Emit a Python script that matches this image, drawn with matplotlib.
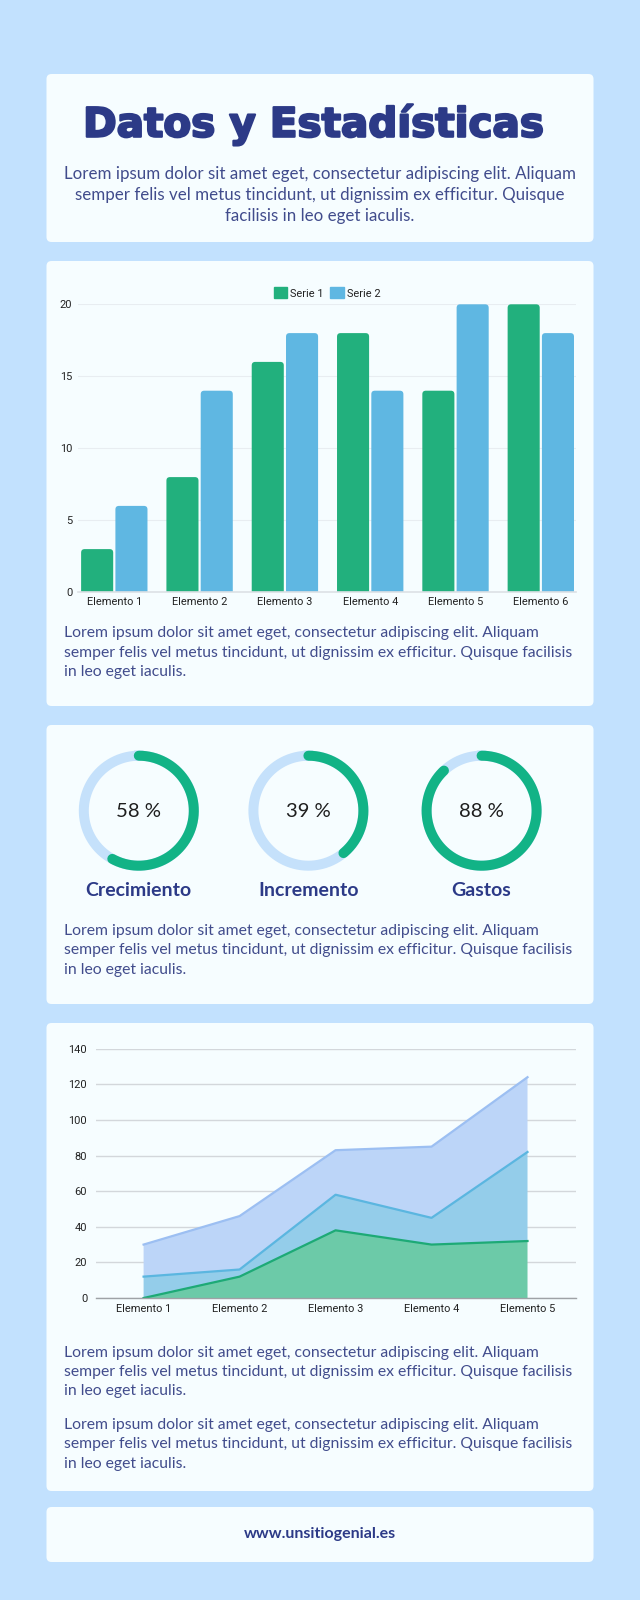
import matplotlib
matplotlib.use('Agg')
import matplotlib.pyplot as plt
import matplotlib.patheffects as pe
import numpy as np
from matplotlib.patches import FancyBboxPatch, Patch

# ---------------- data ----------------
bar_categories = ['Elemento 1', 'Elemento 2', 'Elemento 3', 'Elemento 4', 'Elemento 5', 'Elemento 6']
serie1 = [3, 8, 16, 18, 14, 20]
serie2 = [6, 14, 18, 14, 20, 18]
bar_yticks = [0, 5, 10, 15, 20]
legend_labels = ['Serie 1', 'Serie 2']

donut_values = [58, 39, 88]
donut_labels = ['Crecimiento', 'Incremento', 'Gastos']

area_categories = ['Elemento 1', 'Elemento 2', 'Elemento 3', 'Elemento 4', 'Elemento 5']
area_s1 = [0, 12, 38, 30, 32]
area_s2 = [12, 4, 20, 15, 50]
area_s3 = [18, 30, 25, 40, 42]
area_yticks = [0, 20, 40, 60, 80, 100, 120, 140]

title = 'Datos y Estadísticas'
intro_lines = ['Lorem ipsum dolor sit amet eget, consectetur adipiscing elit. Aliquam',
               'semper felis vel metus tincidunt, ut dignissim ex efficitur. Quisque',
               'facilisis in leo eget iaculis.']
para_lines = ['Lorem ipsum dolor sit amet eget, consectetur adipiscing elit. Aliquam',
              'semper felis vel metus tincidunt, ut dignissim ex efficitur. Quisque facilisis',
              'in leo eget iaculis.']
footer = 'www.unsitiogenial.es'

# ---------------- style ----------------
BG = '#C2E1FE'
PANEL = '#F6FDFF'
NAVY = '#2C3A87'
TXT = '#414C8C'
GREEN = '#22B07D'
BLUE = '#5FB7E2'
DGREEN = '#12B386'
TRACK = '#C5E1FB'
TICK = '#222222'
PFONT = ['Lato', 'DejaVu Sans']
AFONT = ['Roboto', 'DejaVu Sans']

W, H = 640, 1600
fig = plt.figure(figsize=(6.4, 16), dpi=100)
fig.patch.set_facecolor(BG)
renderer = fig.canvas.get_renderer()

bg = fig.add_axes([0, 0, 1, 1])
bg.set_xlim(0, W)
bg.set_ylim(H, 0)
bg.axis('off')
bg.set_zorder(0)


def rect(x0, y0, x1, y1):
    return [x0 / W, 1 - y1 / H, (x1 - x0) / W, (y1 - y0) / H]


def fit(t, target):
    w = t.get_window_extent(renderer).width
    t.set_fontsize(t.get_fontsize() * target / w)
    return t.get_fontsize()


PX0, PX1 = 46.5, 593.5
panels = [(74, 242), (261, 706), (725, 1004), (1023, 1491), (1507, 1562)]
for y0, y1 in panels:
    bg.add_patch(FancyBboxPatch((PX0, y0), PX1 - PX0, y1 - y0,
                                boxstyle='round,pad=0,rounding_size=5',
                                fc=PANEL, ec='none'))

# Title
t = bg.text(313.4, 136.7, title, ha='center', va='baseline', color=NAVY,
            fontsize=30, fontweight='bold', family=['DejaVu Sans'])
fit(t, 460)
t.set_path_effects([pe.withStroke(linewidth=1.6, foreground=NAVY)])

# Intro paragraph
t0 = bg.text(320, 174, intro_lines[0], ha='center', va='center', color=TXT,
             fontsize=10, family=PFONT)
fs_intro = fit(t0, 510)
for y, line in zip([195, 215.5], intro_lines[1:]):
    bg.text(320, y, line, ha='center', va='center', color=TXT,
            fontsize=fs_intro, family=PFONT)

# Panel paragraphs
tmp = bg.text(0, -100, para_lines[1], fontsize=10, family=PFONT)
fs_para = fit(tmp, 508)
tmp.remove()


def paragraph(y_first):
    for i, line in enumerate(para_lines):
        bg.text(64, y_first + 19.3 * i, line, ha='left', va='center',
                color=TXT, fontsize=fs_para, family=PFONT)


paragraph(633.3)
paragraph(931)
paragraph(1352.7)
paragraph(1425)

# ---------------- bar chart ----------------
ax = fig.add_axes(rect(78, 304.3, 575.7, 592.3))
ax.set_facecolor('none')
x = np.arange(len(bar_categories))
bw = 0.376
bars1 = ax.bar(x - 0.201, serie1, bw, color=GREEN)
bars2 = ax.bar(x + 0.201, serie2, bw, color=BLUE)
rx, ry = 3.5 / 85.3, 3.5 / 14.4
for bars, col in [(bars1, GREEN), (bars2, BLUE)]:
    for p in bars:
        p.set_visible(False)
        bx, by, bwid, bh = p.get_x(), p.get_y(), p.get_width(), p.get_height()
        ax.add_patch(FancyBboxPatch((bx, by - ry), bwid, bh + ry,
                                    boxstyle=f'round,pad=0,rounding_size={rx}',
                                    mutation_aspect=ry / rx, fc=col, ec='none', zorder=2))
ax.set_xlim(-0.4255, 5.409)
ax.set_ylim(0, 20)
ax.set_yticks(bar_yticks)
ax.set_xticks(x)
ax.set_xticklabels(bar_categories)
ax.grid(axis='y', color='#E8EDF1', lw=0.8)
ax.set_axisbelow(True)
for s in ['left', 'right', 'top']:
    ax.spines[s].set_visible(False)
ax.spines['bottom'].set_color('#DCE1E5')
ax.spines['bottom'].set_linewidth(1.2)
ax.spines['bottom'].set_zorder(3)
ax.tick_params(length=0, colors=TICK)
ax.tick_params(axis='y', pad=4.2)
ax.tick_params(axis='x', pad=3.5)
for lab in ax.get_xticklabels() + ax.get_yticklabels():
    lab.set_family(AFONT)
    lab.set_fontsize(7.9)
ax.legend(handles=[Patch(color=GREEN, label=legend_labels[0]),
                   Patch(color=BLUE, label=legend_labels[1])],
          loc='center', bbox_to_anchor=(327.2 / W, 1 - 293 / H),
          bbox_transform=fig.transFigure, ncol=2, frameon=False,
          prop={'family': AFONT, 'size': 7.9}, handlelength=1.2,
          handleheight=1.15, handletextpad=0.33, columnspacing=0.6,
          borderpad=0, borderaxespad=0, labelcolor=TICK)

# ---------------- donuts ----------------
donut_cx = [138.8, 308.4, 481.6]
cy = 810.7
tl = bg.text(0, -100, donut_labels[0], fontsize=12, family=PFONT, fontweight='bold')
fs_lab = fit(tl, 105.4)
tl.remove()
tp0 = bg.text(0, -100, f'{donut_values[0]} %', fontsize=14, family=PFONT)
fs_pct = fit(tp0, 45.3)
tp0.remove()
for cx, val, lab in zip(donut_cx, donut_values, donut_labels):
    axp = fig.add_axes(rect(cx - 66, cy - 66, cx + 66, cy + 66), projection='polar')
    axp.set_theta_zero_location('N')
    axp.set_theta_direction(-1)
    axp.set_ylim(0, 66)
    axp.axis('off')
    full = np.linspace(0, 2 * np.pi, 400)
    axp.plot(full, np.full_like(full, 55), color=TRACK, lw=7.2)
    th = np.linspace(0, 2 * np.pi * val / 100, 300)
    axp.plot(th, np.full_like(th, 55), color=DGREEN, lw=7.2, solid_capstyle='round')
    bg.text(cx, cy + 1, f'{val} %', ha='center', va='center', color='#1E1E1E',
            fontsize=fs_pct, family=PFONT)
    bg.text(cx, 890.7, lab, ha='center', va='center', color=NAVY,
            fontsize=fs_lab, family=PFONT, fontweight='bold')

# ---------------- area chart ----------------
ax2 = fig.add_axes(rect(95.6, 1048.7, 575.5, 1298))
ax2.set_facecolor('none')
xa = np.arange(len(area_categories))
ax2.stackplot(xa, area_s1, area_s2, area_s3,
              colors=['#6CCAA8', '#94CDEA', '#BCD5F8'], zorder=2)
c1 = np.array(area_s1)
c2 = c1 + np.array(area_s2)
c3 = c2 + np.array(area_s3)
ax2.plot(xa, c3, color='#9CBFF2', lw=1.6, zorder=3)
ax2.plot(xa, c2, color='#5BB6E0', lw=1.6, zorder=3)
ax2.plot(xa, c1, color='#1DAA76', lw=1.6, zorder=3)
ax2.set_xlim(-0.5, 4.5)
ax2.set_ylim(0, 140)
ax2.set_yticks(area_yticks)
ax2.set_xticks(xa)
ax2.set_xticklabels(area_categories)
ax2.grid(axis='y', color='#D3D7DB', lw=1.0, zorder=2.5)
for s in ['left', 'right', 'top']:
    ax2.spines[s].set_visible(False)
ax2.spines['bottom'].set_color('#9EA2A6')
ax2.spines['bottom'].set_linewidth(1.0)
ax2.spines['bottom'].set_zorder(4)
ax2.tick_params(length=0, colors=TICK)
ax2.tick_params(axis='y', pad=6.1)
ax2.tick_params(axis='x', pad=4.5)
for lab in ax2.get_xticklabels() + ax2.get_yticklabels():
    lab.set_family(AFONT)
    lab.set_fontsize(7.9)

# footer
tf = bg.text(320, 1534, footer, ha='center', va='center', color=NAVY,
             fontsize=10, family=PFONT, fontweight='bold')
fit(tf, 152)

fig.savefig('out.png', dpi=100, facecolor=BG)
